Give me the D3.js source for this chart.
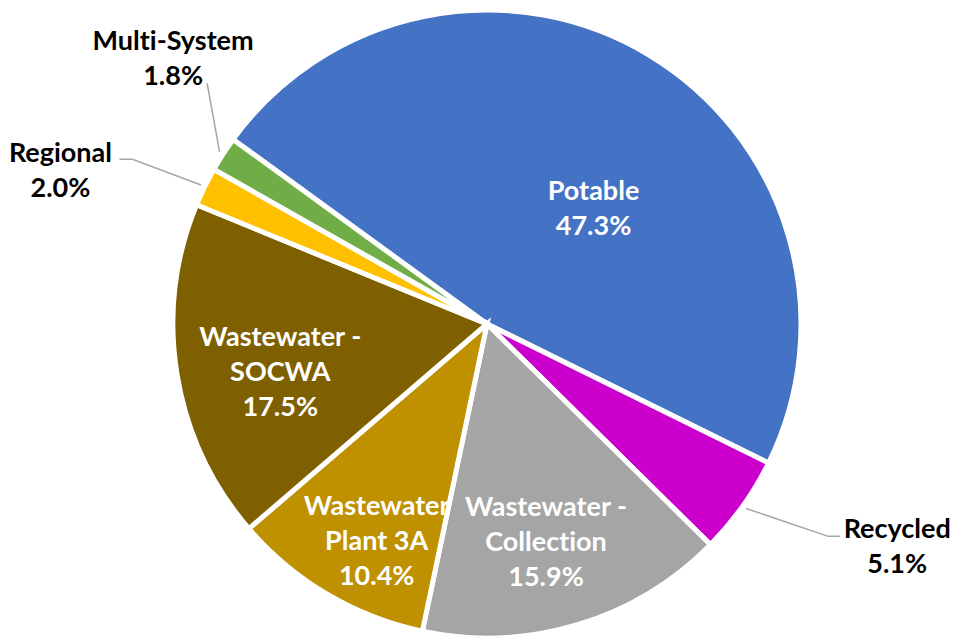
<!DOCTYPE html>
<html>
<head>
<meta charset="utf-8">
<script src="https://cdn.jsdelivr.net/npm/d3@7"></script>
<style>
  html, body { margin: 0; padding: 0; background: #fff; }
  text { font-family: Lato, "Open Sans", sans-serif; font-weight: bold; font-variant-ligatures: none; }
</style>
</head>
<body>
<svg id="chart" width="955" height="637"></svg>
<script>
// data
var categories = ["Potable", "Recycled", "Wastewater - Collection", "Wastewater Plant 3A",
                  "Wastewater - SOCWA", "Regional", "Multi-System"];
var shares = [47.3, 5.1, 15.9, 10.4, 17.5, 2.0, 1.8];
var labelLines = [["Potable"], ["Recycled"], ["Wastewater -", "Collection"], ["Wastewater", "Plant 3A"],
                  ["Wastewater -", "SOCWA"], ["Regional"], ["Multi-System"]];
var colors = ["#4472C4", "#CC00CC", "#A5A5A5", "#BF9000", "#7F6000", "#FFC000", "#70AD47"];

// label placement: angle shift from slice middle (deg), radius factor, inside?, leader end offset
var labelLayout = [
    {da: 11.6, k: 0.50, inside: true},
    {da: -7.0, k: 1.486, inside: false, end: [-57, -10], elbow: -12},
    {da: 1.6, k: 0.72, inside: true},
    {da: -3.6, k: 0.774, inside: true},
    {da: -3.9, k: 0.676, inside: true},
    {da: -6.1, k: 1.444, inside: false, end: [59, -11], elbow: 13},
    {da: 7.5, k: 1.31, inside: false, end: [34, 25], elbow: 0}
];

var cx = 487, cy = 324, radius = 314;
var lineH = 35, fontSize = 27;
var rad = Math.PI / 180;

var data = categories.map(function (c, i) {
    return {name: c, value: shares[i], lines: labelLines[i], color: colors[i], layout: labelLayout[i]};
});

var pie = d3.pie()
    .value(function (d) { return d.value; })
    .sort(null)
    .startAngle(-54 * rad)
    .endAngle(306 * rad);

var arc = d3.arc().innerRadius(0).outerRadius(radius);

var svg = d3.select("#chart");
var g = svg.append("g").attr("transform", "translate(" + cx + "," + cy + ")");

var arcs = pie(data);

g.selectAll("path.slice")
    .data(arcs)
    .enter()
    .append("path")
    .attr("class", "slice")
    .attr("d", arc)
    .attr("fill", function (d) { return d.data.color; })
    .attr("stroke", "#fff")
    .attr("stroke-width", 5)
    .attr("stroke-linejoin", "miter");

function polar(a, r) {
    return [Math.sin(a) * r, -Math.cos(a) * r];
}

arcs.forEach(function (d) {
    var lay = d.data.layout;
    var mid = (d.startAngle + d.endAngle) / 2;
    var p = polar(mid + lay.da * rad, radius * lay.k);
    var rows = d.data.lines.concat([d3.format(".1f")(d.value) + "%"]);

    var t = g.append("text")
        .attr("text-anchor", "middle")
        .attr("font-size", fontSize + "px")
        .attr("fill", lay.inside ? "#fff" : "#000");
    rows.forEach(function (s, i) {
        t.append("tspan")
            .attr("x", p[0])
            .attr("y", p[1] + (i - (rows.length - 1) / 2) * lineH + 9)
            .text(s);
    });

    if (!lay.inside) {
        var s0 = polar(mid, radius + 4);
        var e = [p[0] + lay.end[0], p[1] + lay.end[1]];
        var pts = [s0, [e[0] + lay.elbow, e[1]], e];
        g.append("path")
            .attr("d", d3.line()(pts))
            .attr("fill", "none")
            .attr("stroke", "#A6A6A6")
            .attr("stroke-width", 1.5);
    }
});
</script>
</body>
</html>
